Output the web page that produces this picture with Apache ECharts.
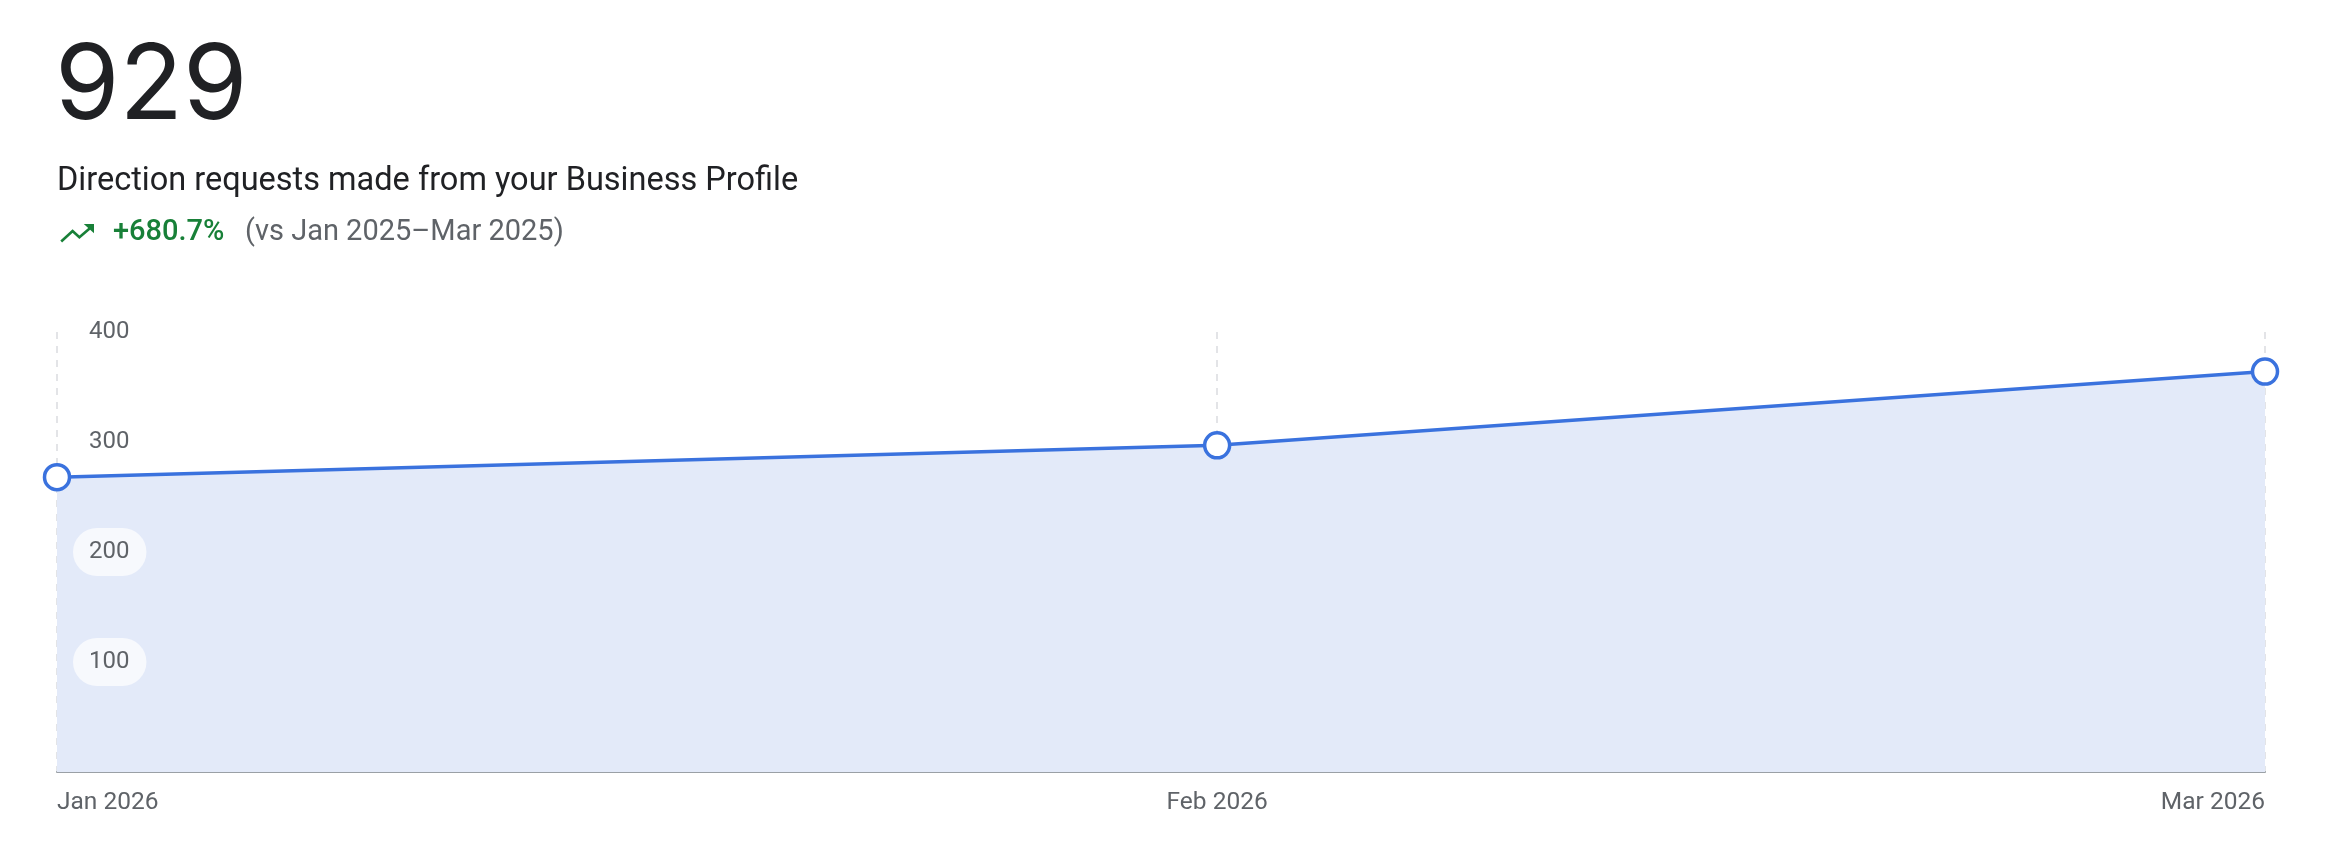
<!DOCTYPE html>
<html>
<head>
<meta charset="utf-8">
<script src="https://cdn.jsdelivr.net/npm/echarts@6/dist/echarts.min.js"></script>
<style>
html,body{margin:0;padding:0;background:#fff;}
#c{width:2326px;height:858px;}
</style>
</head>
<body>
<div id="c"></div>
<script>
const months = ['2026-01-01', '2026-02-01', '2026-03-01'];
const monthLabels = ['Jan 2026', 'Feb 2026', 'Mar 2026'];
const values = [268, 297, 364];
const totalText = '929';
const subtitleText = 'Direction requests made from your Business Profile';
const changeText = '+680.7%';
const compareText = '(vs Jan 2025\u2013Mar 2025)';
const yMin = 0, yMax = 400, yInterval = 100;

const monthTs = months.map(m => Date.UTC(+m.slice(0, 4), +m.slice(5, 7) - 1, +m.slice(8, 10)));
const labelFor = {};
monthTs.forEach((t, i) => { labelFor[t] = monthLabels[i]; });

const chart = echarts.init(document.getElementById('c'));
const blue = '#3a72de';
const green = '#188038';
chart.setOption({
  animation: false,
  backgroundColor: '#fff',
  graphic: [
    { type: 'text', x: 55, y: 36, style: { text: totalText, font: '400 104px Inter', fill: '#202124', textVerticalAlign: 'top' } },
    { type: 'text', x: 57, y: 165, style: { text: subtitleText, font: '400 32.5px Roboto', fill: '#202124' } },
    { type: 'polyline', shape: { points: [[61.2, 241.5], [72.6, 231.1], [79.4, 237.3], [90.5, 227.8]] }, style: { stroke: green, lineWidth: 2.6, fill: null } },
    { type: 'polygon', shape: { points: [[83.8, 224], [94, 224], [94, 233.3]] }, style: { fill: green } },
    { type: 'text', x: 113, y: 218, style: { text: changeText, font: '500 29px Roboto', fill: green } },
    { type: 'text', x: 245, y: 218, style: { text: compareText, font: '400 29px Roboto', fill: '#5f6368' } }
  ],
  grid: { left: 57, right: 61, top: 332, bottom: 86, containLabel: false },
  xAxis: {
    type: 'value',
    min: monthTs[0],
    max: monthTs[monthTs.length - 1],
    axisLine: { show: true, onZero: false, lineStyle: { color: '#9aa0a6', width: 2 } },
    axisTick: { show: false, customValues: monthTs },
    splitLine: { show: true, lineStyle: { color: '#dadce0', type: [7, 7], width: 1.5 } },
    axisLabel: {
      customValues: monthTs,
      formatter: v => labelFor[v] || '',
      color: '#5f6368',
      fontFamily: 'Roboto',
      fontSize: 24.5,
      margin: 18,
      alignMinLabel: 'left',
      alignMaxLabel: 'right',
      showMinLabel: true,
      showMaxLabel: true
    }
  },
  yAxis: {
    type: 'value',
    z: 10,
    min: yMin,
    max: yMax,
    interval: yInterval,
    axisLine: { show: false },
    axisTick: { show: false },
    splitLine: { show: false },
    axisLabel: {
      inside: true,
      showMinLabel: false,
      margin: 16,
      align: 'left',
      color: '#5f6368',
      fontFamily: 'Roboto',
      fontSize: 24,
      backgroundColor: 'rgba(255,255,255,0.7)',
      padding: [12, 17, 12, 16],
      borderRadius: 24
    }
  },
  series: [{
    type: 'line',
    data: monthTs.map((t, i) => [t, values[i]]),
    symbol: 'circle',
    symbolSize: 25,
    showSymbol: true,
    clip: false,
    lineStyle: { color: blue, width: 3.5 },
    itemStyle: { color: '#fff', borderColor: blue, borderWidth: 3.5 },
    areaStyle: { color: '#e3eaf9', opacity: 1 },
    z: 2
  }]
});
</script>
</body>
</html>
